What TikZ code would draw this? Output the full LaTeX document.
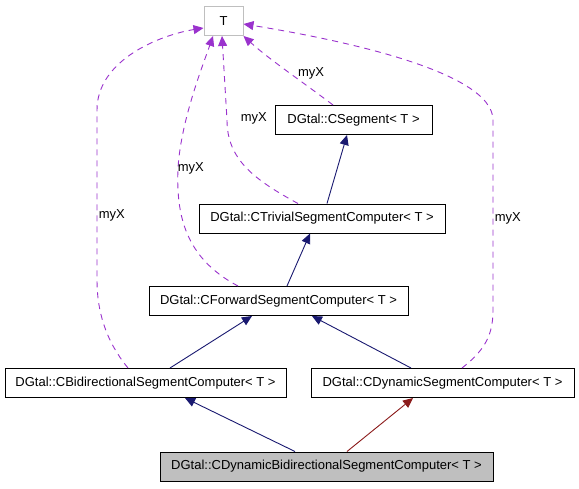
\documentclass[tikz,border=0pt]{standalone}
\usepackage{fontspec}
\setmainfont{Liberation Sans}
\usetikzlibrary{arrows.meta}
\definecolor{inhblue}{RGB}{25,25,112}
\definecolor{inhred}{RGB}{139,26,26}
\definecolor{usepurple}{RGB}{154,50,205}
\definecolor{boxgray}{RGB}{191,191,191}
\tikzset{
  cls/.style={draw, line width=1pt, minimum height=29pt, inner xsep=0pt, font=\fontsize{13}{15}\selectfont},
  inh/.style={draw=inhblue, line width=0.9pt, -{Triangle[length=10pt,width=9pt]}, inhblue},
  usage/.style={draw=usepurple, line width=0.9pt, dash pattern=on 6pt off 5pt, -{Triangle[length=10pt,width=9pt]}, usepurple},
  lab/.style={font=\fontsize{13}{15}\selectfont, text=black}
}
\begin{document}
\begin{tikzpicture}[x=1pt,y=-1pt]
  \useasboundingbox (0,0) rectangle (579,488);
  % classes
  \node[cls, draw=boxgray, minimum width=39pt] (T) at (223.5,21) {T};
  \node[cls, minimum width=157pt] (seg) at (353.5,120) {DGtal::CSegment< T >};
  \node[cls, minimum width=246pt] (triv) at (322,218.5) {DGtal::CTrivialSegmentComputer< T >};
  \node[cls, minimum width=259pt] (fwd) at (278.5,301) {DGtal::CForwardSegmentComputer< T >};
  \node[cls, minimum width=281pt] (bidir) at (145.5,383) {DGtal::CBidirectionalSegmentComputer< T >};
  \node[cls, minimum width=263pt] (dyn) at (442.5,383) {DGtal::CDynamicSegmentComputer< T >};
  \node[cls, fill=boxgray, minimum width=333pt] (dynbidir) at (326.5,466.5) {DGtal::CDynamicBidirectionalSegmentComputer< T >};
  % inheritance
  \draw[inh] (dynbidir.north -| 295,0) -- (bidir.south -| 185,0);
  \draw[inh, draw=inhred, inhred] (dynbidir.north -| 347,0) -- (dyn.south -| 413,0);
  \draw[inh] (bidir.north -| 170,0) -- (fwd.south -| 252,0);
  \draw[inh] (dyn.north -| 411,0) -- (fwd.south -| 312,0);
  \draw[inh] (fwd.north -| 287,0) -- (triv.south -| 310,0);
  \draw[inh] (triv.north -| 327,0) -- (seg.south -| 347,0);
  % usage (myX)
  \draw[usage] (seg.north -| 333,0) .. controls (300,80) and (270,60) .. (T.south east)
    node[lab, pos=0.45, right=4pt] {myX};
  \draw[usage] (triv.north -| 298,0) .. controls (255,180) and (227,160) .. (227,120) -- (T.south -| 222,0)
    node[lab, pos=0.0, anchor=west, xshift=10pt, yshift=2pt] {myX};
  \draw[usage] (fwd.north -| 238,0) .. controls (185,258) and (176,215) .. (178,168)
    node[lab, pos=1, right=-4pt] {myX}
    .. controls (181,120) and (203,65) .. (T.south -| 213,0);
  \draw[usage] (bidir.north -| 128,0) .. controls (105,340) and (97,310) .. (97,280) -- (97,110)
    node[lab, pos=0.38, right=-2pt] {myX}
    .. controls (97,60) and (160,35) .. ([yshift=-7pt]T.west);
  \draw[usage] (dyn.north -| 462,0) .. controls (485,350) and (493,335) .. (493,310) -- (493,120)
    node[lab, pos=0.48, right=-2pt] {myX}
    .. controls (493,70) and (330,38) .. ([yshift=-3pt]T.east);
\end{tikzpicture}
\end{document}
